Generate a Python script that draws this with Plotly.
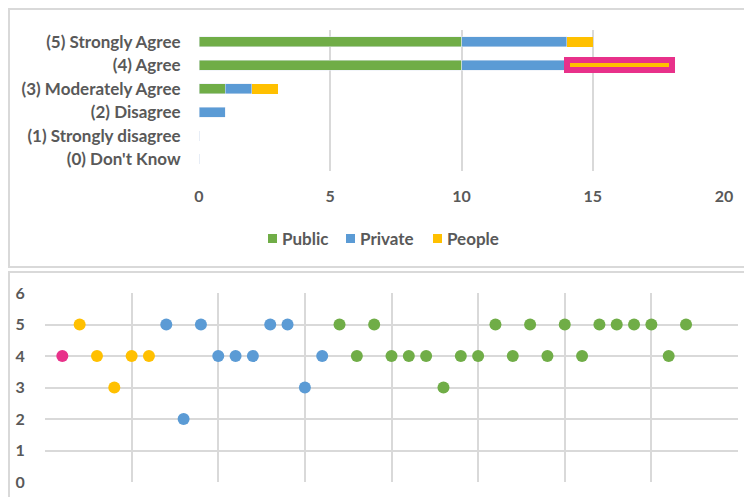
import plotly.graph_objects as go

# ---------------- data ----------------
categories = ["(5) Strongly Agree", "(4) Agree", "(3) Moderately Agree",
              "(2) Disagree", "(1) Strongly disagree", "(0) Don't Know"]
series_names = ["Public", "Private", "People"]
public_counts = [10, 10, 1, 0, 0, 0]
private_counts = [4, 4, 1, 1, 0, 0]
people_counts = [1, 4, 1, 0, 0, 0]
highlight_row = "(4) Agree"

x_ticks_top = [0, 5, 10, 15, 20]

highlight_x = [1]
highlight_y = [4]
people_x = [2, 3, 4, 5, 6]
people_y = [5, 4, 3, 4, 4]
private_x = [7, 8, 9, 10, 11, 12, 13, 14, 15, 16]
private_y = [5, 2, 5, 4, 4, 4, 5, 5, 3, 4]
public_x = [17, 18, 19, 20, 21, 22, 23, 24, 25, 26, 27, 28, 29, 30, 31, 32, 33, 34, 35, 36, 37]
public_y = [5, 4, 5, 4, 4, 4, 3, 4, 4, 5, 4, 5, 4, 5, 4, 5, 5, 5, 5, 4, 5]

# ---------------- styles ----------------
GREEN = "#70AD47"
BLUE = "#5B9BD5"
YELLOW = "#FFC000"
PINK = "#E8318A"
GRID = "#D9D9D9"
TEXT = "#595959"
FONT = "Lato"
series_colors = [GREEN, BLUE, YELLOW]

# the page body has an 8px margin, so the figure is placed at (8, 8)
OFF = 8
W, H = 752 - OFF, 497 - OFF


def px_x(p):
    return (p - OFF) / W


def px_y(p):
    return 1 - (p - OFF) / H


fig = go.Figure()

fig.add_trace(go.Bar(y=categories, x=public_counts, orientation="h", name=series_names[0],
                     marker=dict(color=GREEN), xaxis="x", yaxis="y"))
fig.add_trace(go.Bar(y=categories, x=private_counts, orientation="h", name=series_names[1],
                     marker=dict(color=BLUE), xaxis="x", yaxis="y"))
people_line_w = [6 if c == highlight_row else 0 for c in categories]
people_line_c = [PINK if c == highlight_row else YELLOW for c in categories]
fig.add_trace(go.Bar(y=categories, x=people_counts, orientation="h", name=series_names[2],
                     marker=dict(color=YELLOW, line=dict(width=people_line_w, color=people_line_c)),
                     xaxis="x", yaxis="y"))

mk = 12
fig.add_trace(go.Scatter(x=highlight_x, y=highlight_y, mode="markers",
                         marker=dict(color=PINK, size=mk), xaxis="x2", yaxis="y2"))
fig.add_trace(go.Scatter(x=people_x, y=people_y, mode="markers",
                         marker=dict(color=YELLOW, size=mk), xaxis="x2", yaxis="y2"))
fig.add_trace(go.Scatter(x=private_x, y=private_y, mode="markers",
                         marker=dict(color=BLUE, size=mk), xaxis="x2", yaxis="y2"))
fig.add_trace(go.Scatter(x=public_x, y=public_y, mode="markers",
                         marker=dict(color=GREEN, size=mk), xaxis="x2", yaxis="y2"))

font = dict(family=FONT, size=16, color=TEXT, weight="bold")
font_cat = dict(family=FONT, size=17, color=TEXT, weight="bold")

shapes = [
    dict(type="rect", xref="paper", yref="paper",
         x0=px_x(9), x1=1.02, y0=px_y(267), y1=px_y(9),
         line=dict(color=GRID, width=2), fillcolor="rgba(0,0,0,0)", layer="below"),
    dict(type="rect", xref="paper", yref="paper",
         x0=px_x(9), x1=1.02, y0=-0.02, y1=px_y(272),
         line=dict(color=GRID, width=2), fillcolor="rgba(0,0,0,0)", layer="below"),
]
annotations = []
# manual legend (compact Excel style)
legend_sq_x = [268, 346, 433]
for name, col, lx in zip(series_names, series_colors, legend_sq_x):
    shapes.append(dict(type="rect", xref="paper", yref="paper",
                       x0=px_x(lx), x1=px_x(lx + 9), y0=px_y(243), y1=px_y(234),
                       line=dict(width=0), fillcolor=col))
    annotations.append(dict(xref="paper", yref="paper", x=px_x(lx + 12), y=px_y(238.5),
                            xanchor="left", yanchor="middle", text=name, showarrow=False,
                            font=font_cat))

fig.update_layout(
    width=W, height=H,
    margin=dict(l=0, r=0, t=0, b=0),
    paper_bgcolor="white", plot_bgcolor="white",
    barmode="stack", bargap=0.57,
    font=font,
    showlegend=False,
    xaxis=dict(domain=[px_x(199), px_x(724)], range=[0, 20], tickvals=x_ticks_top,
               showgrid=True, gridcolor=GRID, gridwidth=1.5, zeroline=False,
               showline=False, ticks="outside", ticklen=11, tickcolor="rgba(0,0,0,0)",
               anchor="y", tickfont=font, automargin=False),
    yaxis=dict(domain=[px_y(171), px_y(30)], autorange=False, range=[5.5, -0.5],
               categoryorder="array", categoryarray=categories,
               showgrid=False, zeroline=False, showline=False,
               ticks="outside", ticklen=14, tickcolor="rgba(0,0,0,0)",
               anchor="x", tickfont=font_cat, automargin=False),
    xaxis2=dict(domain=[px_x(45), px_x(738)], range=[0, 40], dtick=5,
                showgrid=True, gridcolor=GRID, gridwidth=1.5, zeroline=False,
                showticklabels=False, showline=False, anchor="y2", automargin=False),
    yaxis2=dict(domain=[px_y(482), px_y(293)], range=[0, 6], dtick=1,
                showgrid=True, gridcolor=GRID, gridwidth=1.5, zeroline=False,
                showline=False, ticks="outside", ticklen=16, tickcolor="rgba(0,0,0,0)",
                anchor="x2", tickfont=font, automargin=False),
    shapes=shapes,
    annotations=annotations,
)

fig.write_html("out.html")
